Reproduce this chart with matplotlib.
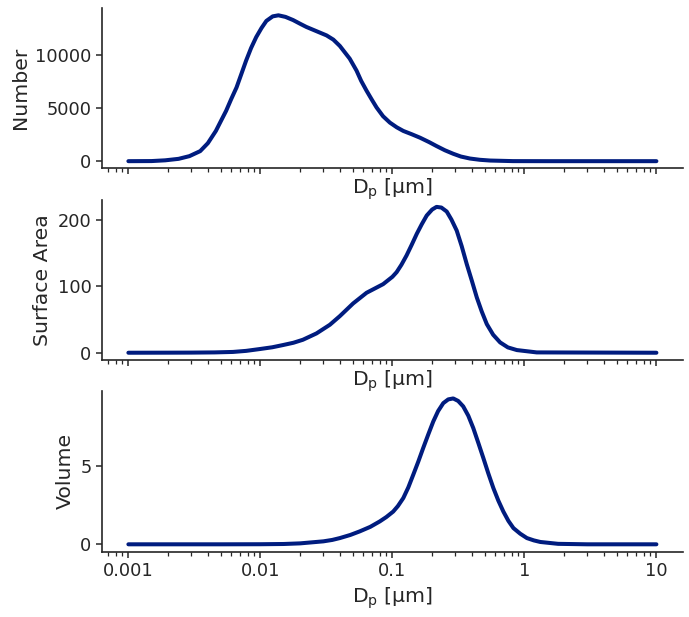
import matplotlib
matplotlib.use("Agg")
import matplotlib.pyplot as plt
from matplotlib.ticker import FuncFormatter

# --- data (Dp in µm) ---
dp_number = [0.001, 0.0015, 0.0019, 0.0024, 0.0029, 0.0035, 0.0040, 0.0046, 0.0050,
             0.0055, 0.0060, 0.0066, 0.0072, 0.0078, 0.0085, 0.0093, 0.0102, 0.0111,
             0.0124, 0.0137, 0.0155, 0.0177, 0.020, 0.0223, 0.026, 0.0317, 0.0357,
             0.040, 0.0475, 0.0535, 0.058, 0.0637, 0.070, 0.0759, 0.085, 0.0957,
             0.108, 0.121, 0.14, 0.162, 0.19, 0.216, 0.25, 0.289, 0.33, 0.387,
             0.46, 0.55, 0.82, 1.5, 10]
number = [0, 10, 80, 220, 476, 950, 1700, 2860, 3750,
          4760, 5850, 6980, 8300, 9520, 10700, 11740, 12600, 13270,
          13700, 13800, 13650, 13350, 13000, 12700, 12350, 11900, 11500,
          10900, 9700, 8570, 7600, 6670, 5800, 5080, 4250, 3650,
          3200, 2860, 2550, 2220, 1800, 1430, 1030, 700, 440, 250,
          130, 60, 5, 0, 0]

dp_surface = [0.001, 0.002, 0.003, 0.0045, 0.0062, 0.0078, 0.00986, 0.0123, 0.0148,
              0.0178, 0.0210, 0.0266, 0.0336, 0.0400, 0.0504, 0.0637, 0.0851, 0.100,
              0.1077, 0.117, 0.128, 0.14, 0.153, 0.167, 0.182, 0.200, 0.216, 0.235,
              0.258, 0.28, 0.307, 0.335, 0.366, 0.40, 0.436, 0.475, 0.519, 0.58,
              0.655, 0.75, 0.877, 1.24, 10]
surface = [0, 0.1, 0.2, 0.5, 1.2, 2.8, 5.5, 8.2, 11.5,
           15, 19.5, 29, 42, 55, 74, 90, 103, 114,
           121, 132, 146, 162, 178.5, 193, 206, 215, 219, 218,
           212, 200, 183.5, 160, 133, 108, 83, 62, 43, 27,
           15.5, 8, 4, 0.5, 0]

dp_volume = [0.001, 0.005, 0.01, 0.015, 0.02, 0.03, 0.035, 0.040, 0.048, 0.0566,
             0.068, 0.0803, 0.09, 0.1014, 0.11, 0.121, 0.132, 0.144, 0.157, 0.171,
             0.187, 0.204, 0.222, 0.243, 0.265, 0.289, 0.315, 0.344, 0.376, 0.41,
             0.448, 0.489, 0.533, 0.582, 0.635, 0.693, 0.757, 0.826, 0.93, 1.045,
             1.18, 1.32, 1.8, 3.0, 10]
volume = [0, 0, 0.005, 0.02, 0.06, 0.19, 0.28, 0.40, 0.6, 0.83,
          1.12, 1.47, 1.75, 2.1, 2.45, 2.97, 3.65, 4.47, 5.3, 6.17,
          7.05, 7.88, 8.55, 9.06, 9.3, 9.36, 9.2, 8.85, 8.25, 7.46,
          6.5, 5.53, 4.55, 3.61, 2.8, 2.1, 1.5, 1.04, 0.68, 0.40,
          0.25, 0.15, 0.03, 0, 0]

panels = [
    (dp_number, number, "Number"),
    (dp_surface, surface, "Surface Area"),
    (dp_volume, volume, "Volume"),
]

# --- style (seaborn-ish ticks look) ---
DARK = "#262626"
plt.rcParams.update({
    "font.family": "DejaVu Sans",
    "text.color": DARK,
    "axes.labelcolor": DARK,
    "axes.edgecolor": DARK,
    "axes.linewidth": 1.2,
    "xtick.color": DARK,
    "ytick.color": DARK,
    "xtick.labelsize": 12.8,
    "ytick.labelsize": 12.8,
    "axes.labelsize": 14.7,
    "xtick.major.size": 4,
    "ytick.major.size": 4,
    "xtick.minor.size": 2.6,
    "xtick.major.width": 1.1,
    "ytick.major.width": 1.1,
    "xtick.minor.width": 0.9,
})

fig, axes = plt.subplots(3, 1, figsize=(6.89, 6.17), dpi=100, sharex=True)
fig.subplots_adjust(left=0.148, right=0.991, top=0.987, bottom=0.106, hspace=0.194)

for i, (ax, (x, y, label)) in enumerate(zip(axes, panels)):
    ax.plot(x, y, color="#001c7f", lw=2.9, solid_capstyle="round",
            solid_joinstyle="round")
    ax.set_xscale("log")
    ax.set_ylabel(label)
    ax.set_xlabel("D$_\\mathrm{p}$ [μm]", labelpad=2 if i < 2 else 4)
    ax.spines["top"].set_visible(False)
    ax.spines["right"].set_visible(False)

axes[-1].xaxis.set_major_formatter(FuncFormatter(lambda v, _: f"{v:g}"))
axes[-1].set_xticks([0.001, 0.01, 0.1, 1, 10])

plt.savefig("out.png", dpi=100)
